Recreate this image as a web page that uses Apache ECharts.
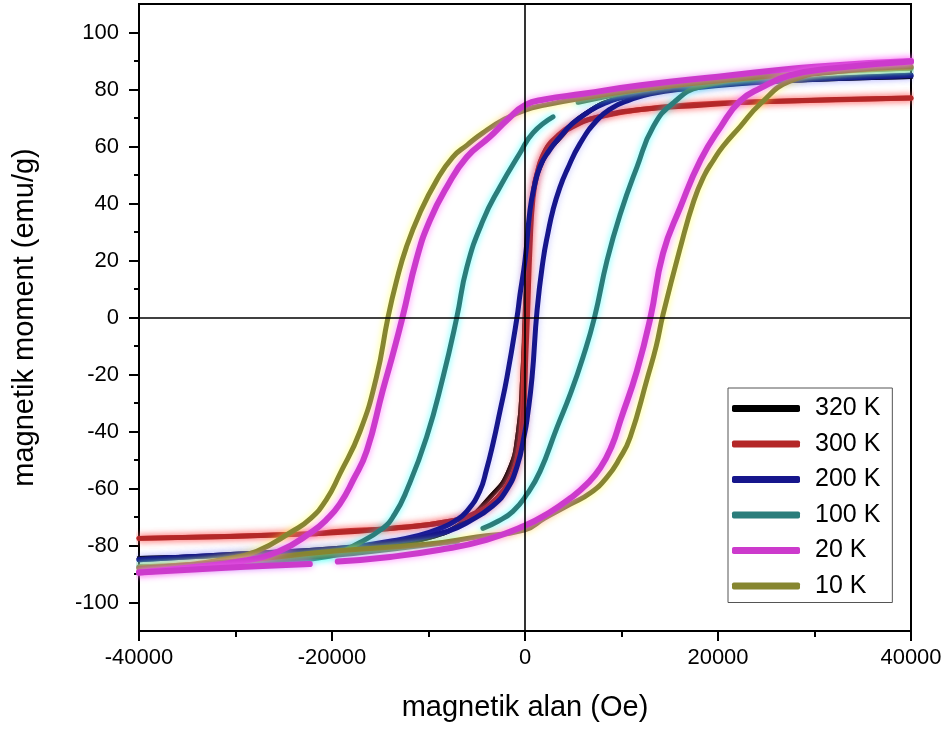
<!DOCTYPE html>
<html><head><meta charset="utf-8">
<script src="https://cdn.jsdelivr.net/npm/echarts@6/dist/echarts.min.js"></script>
<style>html,body{margin:0;padding:0;background:#fff}#c{width:948px;height:729px}</style>
</head><body><div id="c"></div>
<script>
// ---- data (magnetic field H in Oe, moment M in emu/g) ----
const temps = ['320 K', '300 K', '200 K', '100 K', '20 K', '10 K'];
const yMajorTicks = [-100, -80, -60, -40, -20, 0, 20, 40, 60, 80, 100];
const yMinorTicks = [-90, -70, -50, -30, -10, 10, 30, 50, 70, 90];

const down320 = [[40000,84.5],[30000,83.5],[20000,81.8],[14000,79.5],[10000,77.3],[6400,71.8],[3600,63],[1700,54],[700,40],[250,20],[0,2],[-250,-20],[-700,-40],[-1700,-54],[-3600,-63],[-6400,-71.8],[-10000,-77.3],[-16000,-80.5],[-24000,-82.5],[-40000,-84.5]];
const up320 = [[-40000,-84.5],[-24000,-82.5],[-16000,-80.5],[-10000,-77.3],[-6400,-71.8],[-3600,-63],[-1700,-54],[-700,-40],[-250,-20],[0,-2],[250,20],[700,40],[1700,54],[3600,63],[6400,71.8],[10000,77.3],[14000,79.5],[20000,81.8],[30000,83.5],[40000,84.5]];

const down300 = [[40000,77],[24400,75.7],[18000,74.8],[12000,73],[7800,70.5],[5000,67.5],[3300,63.5],[2200,59],[1400,52.5],[850,44],[520,32],[250,15],[50,0],[-150,-20],[-300,-36],[-830,-50],[-1500,-56.5],[-2300,-61],[-3400,-65],[-4700,-68],[-7800,-71.5],[-14000,-74],[-19200,-75],[-22600,-76],[-40000,-77.5]];
const up300 = [[-40000,-77.5],[-22600,-76],[-14000,-74],[-7800,-71.5],[-4700,-68],[-3400,-65],[-2300,-61],[-1400,-56],[-830,-50],[-200,-36],[100,-12],[250,0],[520,25],[830,42],[1300,51],[1870,57],[2900,62],[5000,67],[7800,70.5],[12000,73],[18200,74.5],[24400,75.7],[40000,77]];

const down200 = [[40000,85],[24400,82.7],[16800,80.6],[10600,77.5],[8000,74.8],[6440,71.8],[4900,68],[3640,63.4],[2500,58.5],[1560,53],[900,45],[520,37.7],[0,20],[-520,8],[-830,0],[-1870,-21],[-2600,-33],[-3300,-44],[-4000,-53.5],[-4700,-61],[-6030,-68],[-7300,-71.5],[-8800,-74],[-11000,-76.5],[-14000,-78.5],[-19200,-81],[-29600,-83],[-40000,-85]];
const up200 = [[-40000,-85],[-29600,-83],[-19200,-81],[-12000,-78],[-8000,-75],[-5500,-71],[-3500,-66.5],[-2000,-61],[-800,-52],[0,-40],[200,-36],[730,-21],[1250,2.5],[1870,20],[2400,30],[2900,37.7],[3600,45.5],[4360,51.8],[5700,61],[7500,69.4],[9000,73.5],[10600,76],[13000,78.5],[16800,80.3],[24400,82.5],[40000,85]];

const down100 = [[40000,87.5],[30000,85.8],[20000,83.2],[12000,79.8],[8000,77.3],[5500,75.5],[5000,'-'],[2900,70.4],[830,64.8],[-520,57.7],[-2600,45.8],[-4360,34],[-6030,17.6],[-7070,0],[-8500,-21],[-10200,-42],[-12300,-61],[-13500,-69],[-14750,-74],[-17500,-79.6],[-20600,-84],[-30000,-86.5],[-40000,-87.5]];
const up100 = [[-40000,-87.5],[-30000,-86],[-20000,-83.5],[-12000,-80.5],[-7000,-78.5],[-6500,'-'],[-4360,-74],[-2800,-71.5],[-1250,-68],[200,-62],[1560,-54],[3300,-38.7],[4700,-26.8],[6000,-14],[7200,0],[8500,20],[9900,36.6],[11600,52.8],[13300,67],[15400,75.4],[18200,81],[25000,84.3],[32000,86.3],[40000,87.5]];

const down20 = [[40000,90],[30000,88],[20000,84.5],[12000,81.5],[6000,78.5],[2000,76.5],[0,74.5],[-1800,69.5],[-3640,63.4],[-6030,56.3],[-8100,45.8],[-9870,34],[-11200,21],[-12700,0],[-13700,-13],[-14750,-25.7],[-16400,-46.8],[-17800,-57],[-19200,-65.5],[-20600,-71],[-22000,-75],[-25500,-82],[-29600,-85.6],[-35000,-87.8],[-40000,-89.5]];
const up20 = [[-40000,-89.5],[-32000,-88],[-26000,-87],[-22300,-86.5],[-21000,'-'],[-19400,-85.6],[-14000,-84],[-8800,-81.5],[-4000,-78],[0,-73],[2500,-68.5],[4700,-63.4],[6400,-58.5],[7800,-52.8],[9000,-45],[9900,-36],[11600,-18.7],[13000,0],[14300,22.5],[16100,38.7],[18200,55.3],[20300,67],[22300,76],[24400,80.5],[27500,85],[32000,87.5],[40000,89.8]];

const down10 = [[40000,88],[30000,86],[20000,83],[12000,80],[6000,77],[2000,74.5],[0,72.8],[-2000,69.8],[-4360,64.8],[-6000,60.5],[-7480,56.3],[-9140,48.2],[-10900,36.6],[-12300,24.6],[-13300,13],[-14200,0],[-15400,-21],[-17100,-40],[-19200,-55],[-20600,-64],[-22200,-70.5],[-24100,-75],[-27800,-82],[-31400,-85],[-35000,-86.7],[-40000,-88]];
const up10 = [[-40000,-88],[-30000,-85.5],[-20000,-82],[-10000,-79.5],[-5000,-77],[0,-74.5],[2000,-70.5],[4700,-65.5],[6800,-61.5],[8500,-56],[9800,-49.5],[10900,-42],[12700,-21],[13600,-10],[14300,1],[16100,24.6],[17500,41],[18600,50],[19500,55],[20500,60],[22300,67],[24400,75],[27500,83],[32400,86.3],[40000,88]];

// ---- styles ----
const colors = {'320 K':'#000000','300 K':'#b42828','200 K':'#16168c','100 K':'#2b7d7b','20 K':'#cc3acc','10 K':'#868630'};
const glows = {'320 K':'rgba(0,0,0,0)','300 K':'rgba(255,90,90,0.7)','200 K':'rgba(80,80,255,0.35)','100 K':'rgba(0,255,255,0.6)','20 K':'rgba(255,110,255,0.8)','10 K':'rgba(255,255,60,0.7)'};
const widths = {'320 K':4.5,'300 K':5,'200 K':5,'100 K':5,'20 K':6,'10 K':5};
const FONT = 'Liberation Sans';

function mk(name, data, extra) {
  return Object.assign({
    name: name, type: 'line', data: data, xAxisIndex: 0, yAxisIndex: 0,
    showSymbol: false, symbol: 'none', smooth: 0.5, connectNulls: false,
    color: colors[name],
    lineStyle: {width: widths[name], color: colors[name], cap: 'round', join: 'round',
      shadowBlur: 7, shadowColor: glows[name]},
    itemStyle: {color: colors[name]},
    animation: false, silent: true
  }, extra || {});
}

const series = [
  mk('320 K', down320), mk('320 K', up320),
  mk('300 K', down300), mk('300 K', up300),
  mk('200 K', down200), mk('200 K', up200),
  mk('100 K', down100), mk('100 K', up100),
  mk('10 K', down10), mk('10 K', up10),
  mk('20 K', down20), mk('20 K', up20, {
    markLine: {
      silent: true, symbol: ['none','none'], animation: false,
      label: {show: false},
      lineStyle: {color: '#000', width: 1.6, type: 'solid', shadowBlur: 0},
      emphasis: {disabled: true},
      data: [{xAxis: 0}, {yAxis: 0}]
    }
  })
];

const chart = echarts.init(document.getElementById('c'), null, {renderer: 'canvas'});
chart.setOption({
  backgroundColor: '#fff',
  animation: false,
  textStyle: {fontFamily: FONT},
  grid: {left: 139, right: 37, top: 4, bottom: 98, show: true, borderColor: '#000', borderWidth: 2, backgroundColor: 'transparent'},
  legend: {
    data: temps, orient: 'vertical', left: 728, top: 388,
    padding: [8, 12, 4, 4], itemGap: 10.5, itemWidth: 68, itemHeight: 7,
    icon: 'roundRect', borderColor: '#555', borderWidth: 1, backgroundColor: '#fff',
    textStyle: {fontSize: 25, lineHeight: 25, color: '#000', fontFamily: FONT, padding: [0, 0, 0, 10]},
    selectedMode: false
  },
  xAxis: [{
    type: 'value', min: -40000, max: 40000, interval: 20000,
    name: 'magnetik alan (Oe)', nameLocation: 'middle', nameGap: 62,
    nameTextStyle: {fontSize: 29, color: '#000', fontFamily: FONT},
    axisLine: {show: true, onZero: false, lineStyle: {color: '#000', width: 2}},
    axisTick: {show: true, inside: false, length: 10, lineStyle: {color: '#000', width: 2}},
    minorTick: {show: true, splitNumber: 2, length: 6, lineStyle: {color: '#000', width: 2}},
    axisLabel: {fontSize: 22, color: '#000', margin: 16, fontFamily: FONT, formatter: function (v) { return String(v); }},
    splitLine: {show: false}, minorSplitLine: {show: false}
  }],
  yAxis: [{
    type: 'value', min: -110, max: 110, interval: 10, position: 'left',
    name: 'magnetik moment (emu/g)', nameLocation: 'middle', nameGap: 100,
    nameTextStyle: {fontSize: 29, color: '#000', fontFamily: FONT},
    axisLine: {show: true, onZero: false, lineStyle: {color: '#000', width: 2}},
    axisTick: {show: true, inside: false, length: 10, customValues: yMajorTicks, lineStyle: {color: '#000', width: 2}},
    axisLabel: {fontSize: 22, color: '#000', margin: 20, fontFamily: FONT, customValues: yMajorTicks},
    splitLine: {show: false}
  }, {
    type: 'value', min: -110, max: 110, interval: 10, position: 'left', offset: 0,
    axisLine: {show: false, onZero: false},
    axisTick: {show: true, inside: false, length: 5, customValues: yMinorTicks, lineStyle: {color: '#000', width: 2}},
    axisLabel: {show: false},
    splitLine: {show: false}
  }],
  series: series
});
</script></body></html>
